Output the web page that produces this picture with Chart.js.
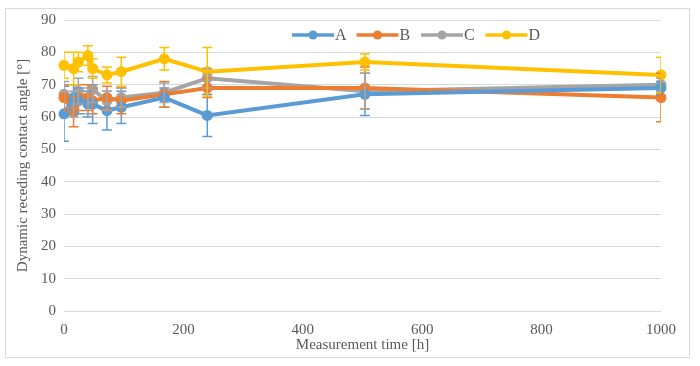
<!DOCTYPE html>
<html>
<head>
<meta charset="utf-8">
<script src="https://cdn.jsdelivr.net/npm/chart.js@4.4.0/dist/chart.umd.min.js"></script>
<style>
  html, body { margin: 0; padding: 0; background: #fff; }
  #wrap { position: relative; width: 700px; height: 366px; }
  #frame { position: absolute; left: 5px; top: 8px; width: 685px; height: 350px; border: 1px solid #d9d9d9; box-sizing: border-box; pointer-events: none; }
</style>
</head>
<body>
<div id="wrap">
  <canvas id="chart1" width="700" height="366"></canvas>
  <div id="frame"></div>
</div>
<script>
// measurement times [h]
var times = [0, 16, 24, 40, 48, 72, 96, 168, 240, 504, 1000];

var seriesNames = ['A', 'B', 'C', 'D'];
var seriesColors = ['#5B9BD5', '#ED7D31', '#A5A5A5', '#FFC000'];

var valuesA = [61, 66, 65, 64, 64, 62, 63, 66, 60.5, 67, 69];
var valuesB = [66, 61.5, 66, 66, 65, 66, 65, 67, 69, 69, 66];
var valuesC = [67, 64, 68, 65, 68.5, 65, 66, 67.5, 72, 68, 70];
var valuesD = [76, 75, 77, 79, 75, 73, 74, 78, 74, 77, 73];

// +/- error
var errorsA = [8.5, 4, 4, 4, 6, 6, 5, 3, 6.5, 6.5, 2];
var errorsB = [4, 4.5, 4, 4, 4, 3.5, 4, 4, 3, 6.5, 7.5];
var errorsC = [4, 4, 4, 4, 4, 3, 3, 3, 3, 5.5, 2];
var errorsD = [4, 5, 3, 3, 3, 2.5, 4.5, 3.5, 7.5, 2.5, 5.5];

var yTicksMax = 90;

function toPoints(vals) {
    return times.map(function(t, i) { return { x: t, y: vals[i] }; });
}

var allValues = [valuesA, valuesB, valuesC, valuesD];
var allErrors = [errorsA, errorsB, errorsC, errorsD];

var errorBars = {
    id: 'errorBars',
    afterDatasetsDraw: function(chart) {
        var ctx = chart.ctx;
        var area = chart.chartArea;
        var xs = chart.scales.x, ys = chart.scales.y;
        ctx.save();
        ctx.beginPath();
        ctx.rect(area.left, area.top - 10, area.right - area.left, area.bottom - area.top + 10);
        ctx.clip();
        ctx.lineWidth = 1.5;
        allValues.forEach(function(vals, s) {
            ctx.strokeStyle = seriesColors[s];
            vals.forEach(function(v, i) {
                var px = xs.getPixelForValue(times[i]);
                var top = ys.getPixelForValue(v + allErrors[s][i]);
                var bot = ys.getPixelForValue(v - allErrors[s][i]);
                ctx.beginPath();
                ctx.moveTo(px, top); ctx.lineTo(px, bot);
                ctx.moveTo(px - 5, top); ctx.lineTo(px + 5, top);
                ctx.moveTo(px - 5, bot); ctx.lineTo(px + 5, bot);
                ctx.stroke();
            });
        });
        ctx.restore();
    }
};

var lineLegend = {
    id: 'lineLegend',
    afterDraw: function(chart) {
        var ctx = chart.ctx;
        var y = 35;
        var x = 292;
        ctx.save();
        ctx.font = '16px "Liberation Serif"';
        ctx.textBaseline = 'middle';
        seriesNames.forEach(function(name, s) {
            ctx.strokeStyle = seriesColors[s];
            ctx.fillStyle = seriesColors[s];
            ctx.lineWidth = 3.5;
            ctx.beginPath();
            ctx.moveTo(x, y); ctx.lineTo(x + 42, y);
            ctx.stroke();
            ctx.beginPath();
            ctx.arc(x + 21, y, 4.5, 0, Math.PI * 2);
            ctx.fill();
            ctx.fillStyle = '#595959';
            ctx.fillText(name, x + 43, y + 1);
            x += 64.5;
        });
        ctx.restore();
    }
};

function makeChart() {
    var ctx1 = document.getElementById('chart1').getContext('2d');
    var datasets = allValues.map(function(vals, s) {
        return {
            label: seriesNames[s],
            data: toPoints(vals),
            borderColor: seriesColors[s],
            backgroundColor: seriesColors[s],
            borderWidth: 4,
            pointRadius: 5.5,
            pointBorderWidth: 0,
            pointHoverRadius: 5.5,
            tension: 0,
            clip: false
        };
    });
    new Chart(ctx1, {
        type: 'line',
        data: { datasets: datasets },
        options: {
            responsive: false,
            animation: false,
            layout: { padding: { left: 14, right: 39, top: 20, bottom: 12 } },
            plugins: {
                legend: { display: false },
                tooltip: { enabled: false }
            },
            scales: {
                x: {
                    type: 'linear',
                    min: 0,
                    max: 1000,
                    afterFit: function(scale) { scale.height = 43; },
                    ticks: {
                        stepSize: 200, color: '#595959', font: { family: 'Liberation Serif', size: 15 }, padding: 2, maxRotation: 0,
                        callback: function(v) { return String(v); }
                    },
                    grid: { display: false },
                    border: { display: false },
                    title: { display: true, text: 'Measurement time [h]', color: '#595959', font: { family: 'Liberation Serif', size: 15 }, padding: 0 }
                },
                y: {
                    min: 0,
                    max: yTicksMax,
                    afterFit: function(scale) { scale.width = 50; },
                    ticks: { stepSize: 10, color: '#595959', font: { family: 'Liberation Serif', size: 15 }, padding: 8 },
                    grid: { color: '#d9d9d9', lineWidth: 1, drawTicks: false },
                    border: { display: false },
                    title: { display: true, text: 'Dynamic receding contact angle [°]', color: '#595959', font: { family: 'Liberation Serif', size: 15 }, padding: 0 }
                }
            }
        },
        plugins: [errorBars, lineLegend]
    });
}

window.onload = function() {
    makeChart();
};
</script>
</body>
</html>
